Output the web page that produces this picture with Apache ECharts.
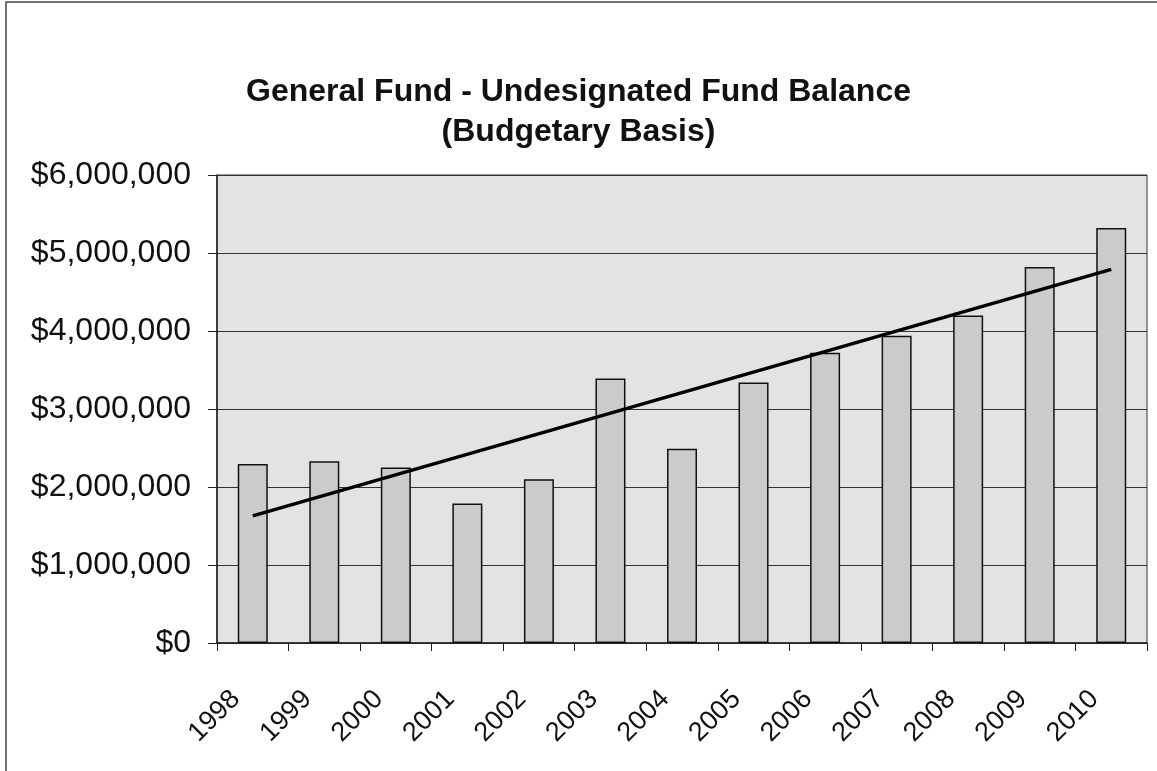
<!DOCTYPE html>
<html>
<head>
<meta charset="utf-8">
<script src="https://cdn.jsdelivr.net/npm/echarts@6/dist/echarts.min.js"></script>
<style>
html,body{margin:0;padding:0;background:#fff;}
#main{width:1157px;height:771px;}
</style>
</head>
<body>
<div id="main"></div>
<script>
const years = ['1998','1999','2000','2001','2002','2003','2004','2005','2006','2007','2008','2009','2010'];
const balances = [2295000, 2330000, 2250000, 1790000, 2100000, 3390000, 2490000, 3340000, 3720000, 3940000, 4200000, 4820000, 5320000];
const trendEnds = [1630000, 4790000]; // trend line value at first and last year
const yTicks = { min: 0, max: 6000000, interval: 1000000 };
const titleLines = ['General Fund - Undesignated Fund Balance', '(Budgetary Basis)'];

const trendData = years.map((y, i) => i === 0 ? trendEnds[0] : (i === years.length - 1 ? trendEnds[1] : null));

function money(v) {
  return '$' + String(Math.round(v)).replace(/\B(?=(\d{3})+(?!\d))/g, ',');
}

const chart = echarts.init(document.getElementById('main'), null, { renderer: 'canvas' });
chart.setOption({
  backgroundColor: '#ffffff',
  animation: false,
  title: {
    text: titleLines.join('\n'),
    left: 'center',
    top: 67,
    textStyle: {
      fontFamily: 'Liberation Sans, Arial, sans-serif',
      fontWeight: 'bold',
      fontSize: 32,
      lineHeight: 40,
      color: '#111'
    }
  },
  graphic: [{
    type: 'polyline',
    shape: { points: [[6, 771], [6, 2], [1157, 2]] },
    style: { stroke: '#444', lineWidth: 1.5, fill: null }
  }],
  grid: {
    left: 217, right: 10, top: 175, bottom: 128,
    show: true,
    backgroundColor: '#e3e3e3',
    borderColor: '#333',
    borderWidth: 1
  },
  xAxis: {
    type: 'category',
    data: years,
    boundaryGap: true,
    axisLine: { lineStyle: { color: '#222', width: 1.5 } },
    axisTick: { show: true, length: 8, lineStyle: { color: '#222' } },
    axisLabel: {
      rotate: 45,
      margin: 35,
      padding: [0, 24, 0, 0],
      fontSize: 27,
      fontFamily: 'Liberation Sans, Arial, sans-serif',
      color: '#111',
      interval: 0
    }
  },
  yAxis: {
    type: 'value',
    min: yTicks.min,
    max: yTicks.max,
    interval: yTicks.interval,
    axisLine: { show: true, lineStyle: { color: '#222', width: 1.5 } },
    axisTick: { show: true, length: 9, lineStyle: { color: '#222' } },
    splitLine: { show: true, lineStyle: { color: '#333', width: 1 } },
    axisLabel: {
      formatter: money,
      fontSize: 32,
      margin: 26,
      fontFamily: 'Liberation Sans, Arial, sans-serif',
      color: '#111'
    }
  },
  series: [{
    type: 'bar',
    data: balances,
    barWidth: 30,
    itemStyle: { color: '#cbcbcb', borderColor: '#111', borderWidth: 1.5 },
    z: 2
  }, {
    type: 'line',
    data: trendData,
    connectNulls: true,
    symbol: 'none',
    lineStyle: { color: '#000', width: 3.5 },
    z: 3
  }]
});
</script>
</body>
</html>
